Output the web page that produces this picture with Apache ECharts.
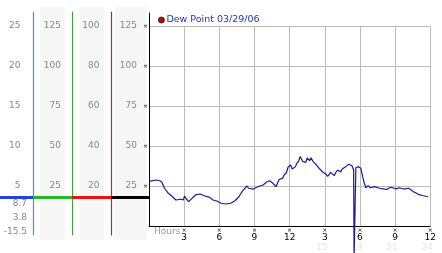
<!DOCTYPE html>
<html><head><meta charset="utf-8">
<script src="https://cdn.jsdelivr.net/npm/echarts@6/dist/echarts.min.js"></script>
<style>html,body{margin:0;padding:0;background:#fff}#c{width:442px;height:253px}</style>
</head><body><div id="c"></div>
<script>
const seriesName = 'Dew Point 03/29/06';
const hours = [0.08,0.64,0.91,1.10,1.32,1.60,2.01,2.29,2.71,2.92,3.04,3.20,3.39,3.67,3.95,4.36,4.78,5.19,5.46,5.79,6.15,6.56,6.98,7.34,7.67,8.00,8.36,8.50,8.91,9.19,9.46,9.74,10.01,10.29,10.57,10.84,10.98,11.11,11.40,11.53,11.73,11.86,12.08,12.22,12.50,12.60,12.77,12.90,12.99,13.10,13.18,13.38,13.50,13.60,13.70,13.82,13.90,14.01,14.29,14.57,14.84,15.00,15.12,15.25,15.39,15.50,15.67,15.80,15.95,16.10,16.22,16.35,16.49,16.78,17.05,17.32,17.46,17.50,17.62,17.65,17.88,18.07,18.23,18.37,18.51,18.60,18.70,18.89,19.00,19.26,19.40,19.67,19.80,20.09,20.30,20.50,20.70,20.91,21.10,21.33,21.50,21.74,21.90,22.16,22.57,22.98,23.40,23.81];
const dewPoint = [28.1,28.75,28.3,27.3,23.6,20.8,18.3,16.25,16.7,16.25,18.75,16.7,15.2,17.3,19.4,20,18.75,17.9,16.25,15.6,14.2,13.75,14.2,15.8,18.3,22.1,25,23.6,23.1,24.2,25,25.6,27.3,28.3,26.7,24.6,25.6,29.2,29.8,31.9,33.3,36.7,38.1,35.6,37.1,39,40.6,43.5,42.7,40.5,41.25,39.8,42.5,41.9,40.8,42.7,43.6,40.2,38.1,35.6,33.6,34.5,32.3,31,31.4,33.5,32.9,31.5,33.6,35,34.4,33.8,35.6,37.1,38.6,37.7,35,-20,-20,36.4,37.1,36.1,30.8,26.7,23.9,23,25.2,23.9,25,24.6,23.5,23.6,24.5,23.1,22.8,23.9,24.2,23.6,23.2,23.9,24.2,23.1,22.7,23.6,21.4,19.8,18.9,18.3];
const mainTicks = [25,50,75,100,125];
const fiveTicks = [5,10,15,20,25];
const eightyTicks = [20,40,60,80,100];
const sideValues = ['8.7','3.8','-15.5'];

const F = 'DejaVu Sans';
const chart = echarts.init(document.getElementById('c'), null, {renderer:'canvas'});
const sideAxis = (gi, min, max, color, ticks, margin, width) => ({
  gridIndex:gi, type:'value', position:'left', min, max, z:5,
  axisLine:{show:true, onZero:false, lineStyle:{color, width:width || 1}},
  axisTick:{show:false}, splitLine:{show:false},
  axisLabel:{show:!!ticks, customValues:ticks || [], margin, color:'#888', fontSize:9, fontFamily:F}
});
const option = {
  animation:false,
  backgroundColor:'#fff',
  legend:{
    left:158, top:15, padding:0, icon:'circle', itemWidth:6, itemHeight:6,
    data:[{name:seriesName, itemStyle:{color:'#aa1111', borderColor:'#550000', borderWidth:0.8}}],
    textStyle:{color:'#2233bb', fontSize:9.5, fontFamily:F, padding:[0,0,0,-3]}
  },
  grid:[
    {left:149, top:26, width:290, height:200},
    {left:33.5, top:12, width:10, height:223},
    {left:72, top:12, width:10, height:223},
    {left:111.5, top:12, width:10, height:223},
    {left:149, top:13, width:290, height:213}
  ],
  xAxis:[
    {gridIndex:0, type:'value', min:0, max:24, interval:3,
     axisLine:{onZero:false, lineStyle:{color:'#000', width:1}},
     axisTick:{show:false},
     splitLine:{lineStyle:{color:'#bbb'}},
     axisLabel:{margin:2, fontFamily:F,
       formatter:(v)=>{
         if (v===0) return '';
         const h = ((v-1)%12)+1;
         return '{t|×}\n{a|'+h+'}' + (v>=15 ? '\n{b|'+v+'}' : '');
       },
       rich:{
         t:{fontSize:6, lineHeight:5, color:'#000', fontFamily:F},
         a:{fontSize:9, lineHeight:9, color:'#000', fontFamily:F},
         b:{fontSize:9, lineHeight:12, color:'#e4e4e4', fontFamily:F, padding:[0,6,0,0]}
       }}
    },
    {gridIndex:1, type:'value', show:false},
    {gridIndex:2, type:'value', show:false},
    {gridIndex:3, type:'value', show:false},
    {gridIndex:4, type:'value', show:false}
  ],
  yAxis:[
    {gridIndex:0, type:'value', min:0, max:125, interval:25,
     axisLine:{show:false}, axisTick:{show:false},
     splitLine:{lineStyle:{color:'#bbb'}},
     axisLabel:{margin:1, fontFamily:F,
       formatter:(v)=> v===0 ? '' : '{a|'+v+'}{t|×}',
       rich:{
         a:{fontSize:9, color:'#888', fontFamily:F},
         t:{fontSize:6, color:'#000', fontFamily:F, padding:[0,0,0,6]}
       }}
    },
    sideAxis(1, -1.125, 26.75, '#3399dd', fiveTicks, 13, 1.2),
    sideAxis(2, -5.625, 133.75, '#33aa33', mainTicks, 11),
    sideAxis(3, -4.5, 107, '#cc2222', eightyTicks, 12, 1.2),
    sideAxis(4, 0, 1, '#000', null, 0)
  ],
  series:[{
    type:'line', name:seriesName, xAxisIndex:0, yAxisIndex:0,
    data: hours.map((h,i)=>[h, dewPoint[i]]),
    showSymbol:false, clip:false,
    lineStyle:{color:'#1a1a9a', width:1.2},
    itemStyle:{color:'#1a1a9a'},
    emphasis:{disabled:true}
  }]
};
chart.setOption(option);

const lastVal = dewPoint[dewPoint.length-1];
const yCur = Math.round(chart.convertToPixel({yAxisIndex:0}, lastVal)) + 0.5;
const bands = [[40,25],[80,24],[115,31]];
const segs = [[0,33,'#2244dd'],[33,72,'#22bb22'],[72,111,'#ee1111'],[111,149,'#000']];
const sideY = [204,218,232];
const elements = [];
bands.forEach(b => elements.push({type:'rect', z:-10, silent:true, shape:{x:b[0], y:7, width:b[1], height:233}, style:{fill:'#f6f6f6'}}));
sideValues.forEach((t,i) => elements.push({type:'text', silent:true, style:{text:t, x:27, y:sideY[i], align:'right', verticalAlign:'middle', fill:'#888', font:'9px "DejaVu Sans"'}}));
elements.push({type:'text', silent:true, style:{text:'Hours', x:154, y:232, align:'left', verticalAlign:'middle', fill:'#999', font:'9px "DejaVu Sans"'}});
segs.forEach(s => elements.push({type:'line', z:10, silent:true, shape:{x1:s[0], y1:yCur, x2:s[1], y2:yCur}, style:{stroke:s[2], lineWidth:3}}));
chart.setOption({graphic:{elements}});
</script></body></html>
